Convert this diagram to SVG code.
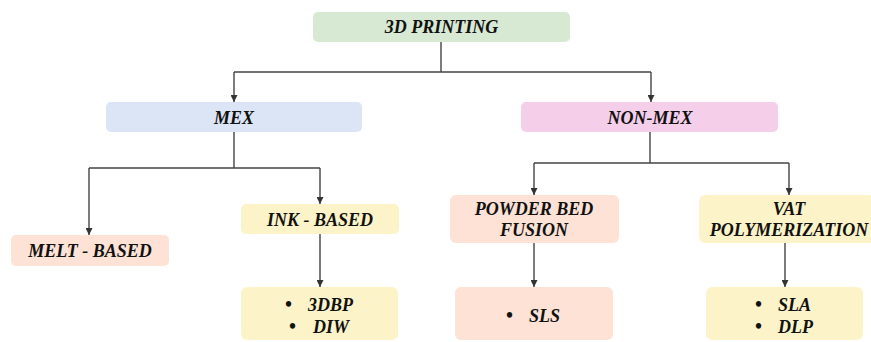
<svg xmlns="http://www.w3.org/2000/svg" width="871" height="342" viewBox="0 0 871 342">
  <defs>
    <marker id="arrow" viewBox="0 0 10 10" refX="10" refY="5" markerWidth="7" markerHeight="7" markerUnits="userSpaceOnUse" orient="auto">
      <path d="M0,0 L10,5 L0,10 z" fill="#333"/>
    </marker>
    <style>
      text { font-family: "Liberation Serif", "Times New Roman", serif; font-size: 18px; font-weight: bold; font-style: italic; fill: #111; }
      text.c { text-anchor: middle; }
      .dot { font-style: normal; font-weight: bold; font-size: 20px; }
      rect { stroke: none; }
      .green { fill: #d7e9d3; }
      .blue { fill: #dce5f6; }
      .pink { fill: #f5cfea; }
      .peach { fill: #fde2d5; }
      .yellow { fill: #fcf4c8; }
      .wire { fill: none; stroke: #444; stroke-width: 1.4; }
    </style>
  </defs>

  <g id="connectors">
    <polyline class="wire" points="441,42 441,72"/>
    <polyline class="wire" points="234,72 651,72"/>
    <polyline class="wire" points="234,72 234,102" marker-end="url(#arrow)"/>
    <polyline class="wire" points="651,72 651,102" marker-end="url(#arrow)"/>

    <polyline class="wire" points="234,132 234,168"/>
    <polyline class="wire" points="89,168 320,168"/>
    <polyline class="wire" points="89,168 89,235" marker-end="url(#arrow)"/>
    <polyline class="wire" points="320,168 320,204" marker-end="url(#arrow)"/>
    <polyline class="wire" points="320,234 320,287" marker-end="url(#arrow)"/>

    <polyline class="wire" points="650,132 650,163"/>
    <polyline class="wire" points="534,163 789,163"/>
    <polyline class="wire" points="534,163 534,195" marker-end="url(#arrow)"/>
    <polyline class="wire" points="789,163 789,195" marker-end="url(#arrow)"/>
    <polyline class="wire" points="534,243 534,287" marker-end="url(#arrow)"/>
    <polyline class="wire" points="785,243 785,287" marker-end="url(#arrow)"/>
  </g>

  <g id="printing">
    <rect class="green" x="313" y="12" width="257" height="30" rx="5"/>
    <text class="c" x="441.5" y="33">3D PRINTING</text>
  </g>

  <g id="mex">
    <rect class="blue" x="106" y="102" width="256" height="30" rx="5"/>
    <text class="c" x="234" y="124">MEX</text>
  </g>

  <g id="non-mex">
    <rect class="pink" x="521" y="102" width="257" height="30" rx="5"/>
    <text class="c" x="650" y="124">NON-MEX</text>
  </g>

  <g id="melt-based">
    <rect class="peach" x="11" y="235" width="158" height="31" rx="5"/>
    <text class="c" x="90" y="257">MELT - BASED</text>
  </g>

  <g id="ink-based">
    <rect class="yellow" x="241" y="204" width="158" height="30" rx="5"/>
    <text class="c" x="320" y="226">INK - BASED</text>
  </g>

  <g id="ink-methods">
    <rect class="yellow" x="241" y="287" width="157" height="53" rx="6"/>
    <text x="289" y="311"><tspan class="dot" x="285">•</tspan><tspan x="308">3DBP</tspan></text>
    <text x="293" y="333"><tspan class="dot" x="289">•</tspan><tspan x="313">DIW</tspan></text>
  </g>

  <g id="powder-bed">
    <rect class="peach" x="450" y="195" width="169" height="48" rx="6"/>
    <text class="c" x="534" y="215">POWDER BED</text>
    <text class="c" x="534" y="236">FUSION</text>
  </g>

  <g id="powder-methods">
    <rect class="peach" x="455" y="287" width="158" height="53" rx="6"/>
    <text x="510" y="322"><tspan class="dot" x="506">•</tspan><tspan x="529">SLS</tspan></text>
  </g>

  <g id="vat">
    <rect class="yellow" x="699" y="195" width="176" height="48" rx="6"/>
    <text class="c" x="789" y="215">VAT</text>
    <text class="c" x="789" y="236">POLYMERIZATION</text>
  </g>

  <g id="vat-methods">
    <rect class="yellow" x="706" y="287" width="157" height="53" rx="6"/>
    <text x="759" y="311"><tspan class="dot" x="755">•</tspan><tspan x="778">SLA</tspan></text>
    <text x="759" y="333"><tspan class="dot" x="755">•</tspan><tspan x="778">DLP</tspan></text>
  </g>
</svg>
